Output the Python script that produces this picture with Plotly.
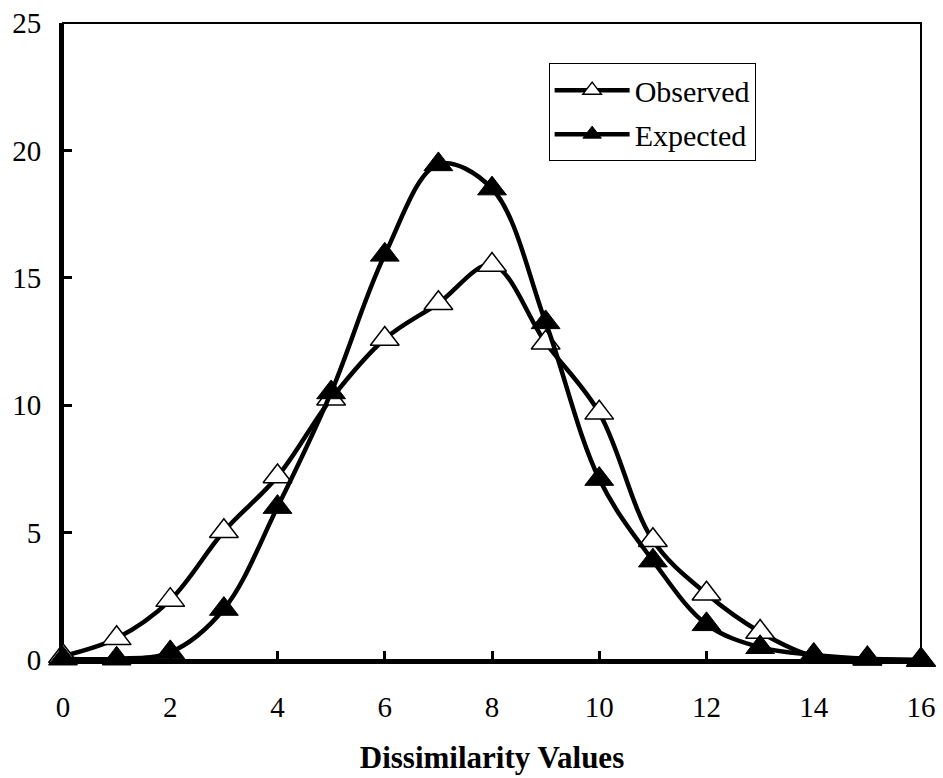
import plotly.graph_objects as go

# Dissimilarity value bins
dissimilarity = list(range(17))

# Observed frequencies
observed = [0.15, 0.85, 2.35, 5.05, 7.2, 10.25, 12.6, 14.0, 15.5, 12.45,
            9.7, 4.7, 2.6, 1.1, 0.15, 0.05, 0.0]

# Expected frequencies
expected = [0.05, 0.05, 0.3, 2.0, 6.0, 10.5, 15.9, 19.45, 18.5, 13.25,
            7.1, 3.9, 1.4, 0.5, 0.2, 0.05, 0.0]

x_ticks = list(range(0, 17, 2))
y_ticks = [0, 5, 10, 15, 20, 25]

font_family = "Liberation Serif, Times New Roman, serif"

fig = go.Figure()

fig.add_trace(go.Scatter(
    x=dissimilarity, y=observed, name="Observed", legendgroup="obs",
    mode="lines+markers", line=dict(color="black", width=4.5, shape="spline", smoothing=1.0),
    marker=dict(symbol="triangle-up", size=25, color="white",
                line=dict(color="black", width=1.5)),
    cliponaxis=False,
))

fig.add_trace(go.Scatter(
    x=dissimilarity, y=expected, name="Expected", legendgroup="exp",
    mode="lines+markers", line=dict(color="black", width=4.5, shape="spline", smoothing=1.0),
    marker=dict(symbol="triangle-up", size=25, color="black",
                line=dict(color="black", width=1)),
    cliponaxis=False,
))

# thin frame around the plotting area
fig.add_shape(type="rect", xref="paper", yref="paper", x0=0, y0=0, x1=1, y1=1,
              line=dict(color="black", width=2), layer="below")

fig.update_layout(
    width=943, height=778,
    margin=dict(l=63, r=22, t=23, b=118),
    paper_bgcolor="white", plot_bgcolor="white",
    font=dict(family=font_family, size=29, color="black"),
    showlegend=True,
    legend=dict(
        x=0.566, y=0.937, xanchor="left", yanchor="top",
        bgcolor="white", bordercolor="black", borderwidth=1,
        font=dict(family=font_family, size=30, color="black"),
        tracegroupgap=2, itemwidth=75,
    ),
    xaxis=dict(
        range=[0, 16], tickvals=x_ticks, ticks="inside", ticklen=9, tickwidth=3,
        tickcolor="black", showline=True, linecolor="black", linewidth=4,
        showgrid=False, zeroline=False, ticklabelstandoff=18, automargin=False,
        tickfont=dict(family=font_family, size=29),
        title=dict(text="<b>Dissimilarity Values</b>",
                   font=dict(family=font_family, size=31), standoff=26),
    ),
    yaxis=dict(
        range=[0, 25], tickvals=y_ticks, ticks="inside", ticklen=9, tickwidth=3,
        tickcolor="black", showline=True, linecolor="black", linewidth=4,
        showgrid=False, zeroline=False, ticklabelstandoff=12, automargin=False,
        tickfont=dict(family=font_family, size=29),
    ),
)

fig.write_html("out.html")
